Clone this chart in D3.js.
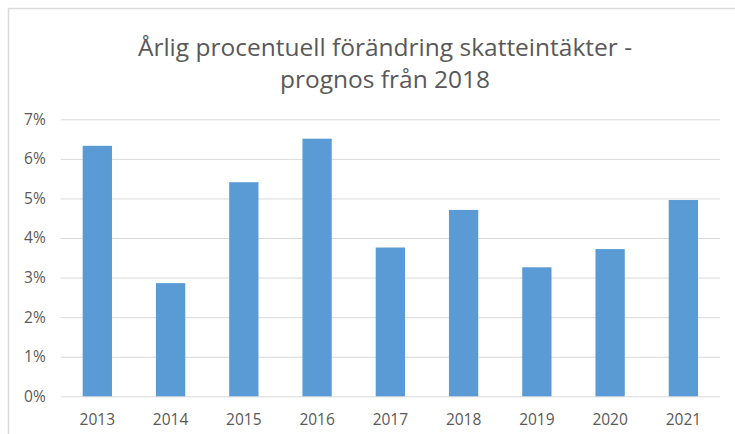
<!DOCTYPE html>
<html>
<head>
<meta charset="utf-8">
<script src="https://cdn.jsdelivr.net/npm/d3@7"></script>
<style>
  body { margin: 0; background: #fff; }
  svg { display: block; }
</style>
</head>
<body>
<svg></svg>
<script>
  //Chart data
  const years = ['2013', '2014', '2015', '2016', '2017', '2018', '2019', '2020', '2021'];
  const change = [6.33, 2.86, 5.41, 6.51, 3.76, 4.71, 3.26, 3.72, 4.96];
  const yTicks = [0, 1, 2, 3, 4, 5, 6, 7];
  const titleLines = ['Årlig procentuell förändring skatteintäkter -', 'prognos från 2018'];

  const width = 735;
  const height = 434;
  const font = 'Open Sans, Noto Sans, sans-serif';
  const textColor = '#595959';

  const svg = d3.select('svg')
    .attr('width', width)
    .attr('height', height);

  //Chart area border (runs off the right and bottom edges)
  svg.append('rect')
    .attr('x', 8.5)
    .attr('y', 8.5)
    .attr('width', width)
    .attr('height', height)
    .attr('fill', '#fff')
    .attr('stroke', '#d9d9d9')
    .attr('stroke-width', 1.5);

  //Title
  svg.append('g')
    .selectAll('text')
    .data(titleLines)
    .enter().append('text')
    .attr('x', 385)
    .attr('y', (d, i) => 56 + i * 32)
    .attr('text-anchor', 'middle')
    .attr('font-family', font)
    .attr('font-size', 24.5)
    .attr('fill', textColor)
    .text(d => d);

  //Scales
  const x = d3.scaleBand()
    .domain(years)
    .range([60.7, 720])
    .paddingInner(0.6)
    .paddingOuter(0.3);

  const y = d3.scaleLinear()
    .domain([0, 7])
    .range([396.3, 119.3]);

  //Gridlines + y labels
  const yAxis = svg.append('g')
    .attr('transform', 'translate(60.7,0)')
    .call(d3.axisLeft(y).tickValues(yTicks).tickSize(-(720 - 60.7)).tickFormat(d => d + '%'));
  yAxis.select('.domain').remove();
  yAxis.selectAll('.tick line')
    .attr('stroke', '#d9d9d9')
    .attr('stroke-width', 1);
  yAxis.selectAll('.tick text')
    .attr('x', -15)
    .attr('fill', textColor)
    .attr('font-family', font)
    .attr('font-size', 15.5);

  //Bars
  svg.append('g')
    .selectAll('rect')
    .data(years)
    .enter().append('rect')
    .attr('x', d => x(d))
    .attr('width', x.bandwidth())
    .attr('y', (d, i) => y(change[i]))
    .attr('height', (d, i) => y(0) - y(change[i]))
    .attr('fill', '#5b9bd5');

  //x labels
  const xAxis = svg.append('g')
    .attr('transform', `translate(0,${y(0)})`)
    .call(d3.axisBottom(x).tickSize(0).tickPadding(18));
  xAxis.select('.domain').remove();
  xAxis.selectAll('.tick text')
    .attr('fill', textColor)
    .attr('font-family', font)
    .attr('font-size', 15.5);
</script>
</body>
</html>
